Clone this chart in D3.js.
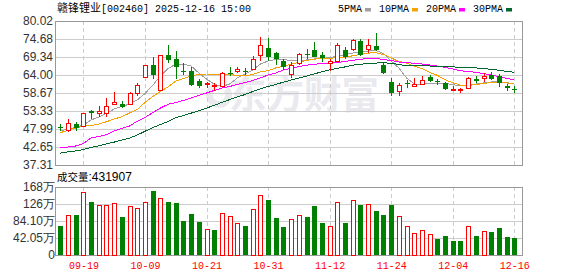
<!DOCTYPE html>
<html>
<head>
<meta charset="utf-8">
<script src="https://cdn.jsdelivr.net/npm/d3@7"></script>
<style>
body { margin: 0; background: #fff; }
svg { display: block; }
</style>
</head>
<body>
<div id="wrapper"></div>
<script>
const dates = [
    "09-16","09-17","09-18","09-19","09-22","09-23","09-24","09-25","09-26","09-29",
    "09-30","10-09","10-10","10-13","10-14","10-15","10-16","10-17","10-20","10-21",
    "10-22","10-23","10-24","10-27","10-28","10-29","10-30","10-31","11-03","11-04",
    "11-05","11-06","11-07","11-10","11-11","11-12","11-13","11-14","11-17","11-18",
    "11-19","11-20","11-21","11-24","11-25","11-26","11-27","11-28","12-01","12-02",
    "12-03","12-04","12-05","12-08","12-09","12-10","12-11","12-12","12-15","12-16"
];
const opens = [
    48.55,47.69,49.47,48.67,53.24,52.44,52.44,55.40,55.40,55.19,
    58.58,63.32,66.88,59.55,70.02,68.66,65.19,65.28,62.14,61.33,
    60.74,60.74,64.69,65.19,65.19,65.69,69.64,72.01,70.44,68.25,
    64.30,67.27,70.38,71.42,70.02,67.27,68.07,71.42,71.42,74.00,
    71.42,72.61,67.06,61.93,59.17,61.72,60.54,61.13,63.50,62.08,
    61.54,59.55,59.41,59.94,62.67,62.91,63.91,63.71,60.74,59.85
];
const highs = [
    49.47,50.95,50.06,52.70,53.53,54.81,57.18,59.05,56.29,58.96,
    61.54,67.06,69.43,69.90,72.81,71.03,67.47,66.29,62.73,61.93,
    61.54,64.89,66.29,66.29,66.08,69.64,75.19,74.98,70.83,68.84,
    67.86,70.44,71.63,73.79,70.83,68.66,73.41,72.22,74.59,74.77,
    74.77,76.55,67.47,63.11,61.72,62.52,63.11,63.71,64.09,62.73,
    61.93,60.74,60.15,63.32,63.71,64.51,64.89,64.30,61.33,60.74
];
const lows = [
    47.48,47.10,47.30,48.50,51.04,51.46,51.63,55.30,54.13,55.02,
    57.78,63.11,62.91,59.40,67.65,62.91,63.91,60.74,60.15,60.15,
    59.35,60.54,63.71,64.51,63.91,65.49,68.25,68.07,66.88,65.49,
    63.11,66.88,68.66,69.25,67.86,65.10,67.86,68.84,71.21,69.64,
    70.62,71.03,64.30,57.78,57.88,60.15,60.54,60.95,61.93,60.95,
    59.55,59.17,58.75,59.76,61.72,61.93,62.52,60.54,59.35,58.75
];
const closes = [
    48.43,49.68,48.28,52.64,52.73,53.03,54.60,55.79,54.42,58.37,
    60.95,66.88,64.09,69.85,68.45,66.46,64.89,61.13,60.74,61.54,
    60.89,64.51,64.30,65.69,64.89,68.66,72.61,69.25,68.84,66.46,
    66.88,70.23,70.08,69.43,69.05,67.86,72.61,69.43,74.18,69.85,
    72.61,71.42,64.51,58.58,60.95,61.33,61.33,62.52,62.31,61.84,
    59.94,59.76,59.64,63.11,62.37,63.50,62.91,61.54,60.15,59.64
];
// volume in 万
const volumes = [
    71.7,96.5,98.9,155.1,131.1,122.9,122.9,127.9,94.0,120.4,
    113.8,130.3,158.3,140.2,131.1,128.6,84.1,101.4,81.6,63.5,
    61.8,103.1,95.7,78.4,71.7,113.0,147.7,136.8,92.3,70.0,
    89.0,96.5,94.0,121.2,79.2,69.3,130.3,79.2,133.6,123.7,
    125.4,108.8,98.9,123.7,95.7,71.0,53.7,61.1,51.2,39.6,
    47.0,34.6,34.6,69.3,47.0,58.6,56.9,66.8,44.5,43.19
];
const volUp = [
    0,1,0,1,0,1,1,1,0,1,
    1,1,0,1,0,0,0,0,0,1,
    0,1,1,1,0,1,1,0,0,0,
    1,1,0,0,0,1,1,0,1,0,
    1,0,0,0,1,1,1,1,1,0,
    0,0,0,1,0,1,0,0,0,0
];
const ma5 = [
    47.40,48.00,48.43,49.17,50.66,51.55,52.58,53.92,54.66,55.40,
    56.59,58.52,60.89,63.71,65.93,67.17,67.27,66.67,64.60,62.82,
    61.33,60.59,61.33,63.11,64.30,65.49,67.27,68.16,68.60,68.60,
    68.30,68.30,68.45,68.75,68.90,69.19,69.49,70.08,70.53,70.83,
    71.12,71.27,70.38,68.16,66.08,63.11,61.33,61.19,61.63,61.63,
    61.48,61.19,60.74,61.04,61.33,61.63,61.93,61.93,61.78,61.33
];
const ma10 = [
    46.89,47.60,48.28,48.79,49.02,49.47,50.15,50.95,51.63,52.73,
    53.77,55.85,57.63,59.11,60.45,62.22,62.97,63.71,64.15,64.30,
    64.30,64.30,64.15,63.86,63.71,64.15,64.89,65.30,66.10,66.60,
    67.20,67.80,68.30,68.70,68.95,69.00,69.10,69.30,69.70,70.10,
    70.50,70.60,70.10,69.05,68.01,67.56,66.60,65.90,64.80,63.90,
    62.60,61.70,61.00,60.90,61.19,61.48,61.78,61.78,61.63,61.33
];
const ma20 = [
    42.44,42.65,42.95,43.69,45.32,45.76,46.30,47.39,48.19,48.88,
    50.30,51.40,52.80,54.20,55.30,55.85,56.44,57.18,57.92,58.67,
    59.41,60.15,60.59,61.19,61.78,62.37,63.11,64.00,64.60,65.50,
    66.00,66.50,66.90,67.20,67.40,67.56,67.71,68.01,68.37,68.66,
    68.90,68.90,68.60,68.30,67.86,67.71,67.47,67.27,66.97,66.67,
    66.29,65.78,65.28,65.04,64.80,64.45,64.00,63.50,63.02,62.52
];
const ma30 = [
    40.85,41.20,41.50,41.90,42.50,43.00,43.60,44.10,44.70,45.30,
    46.20,47.30,48.40,49.30,50.20,51.30,52.00,52.70,53.40,54.20,
    55.00,55.90,56.70,57.50,58.20,59.10,59.90,60.60,61.20,61.90,
    62.50,63.10,63.70,64.30,65.00,65.50,66.00,66.40,66.90,67.20,
    67.40,67.55,67.60,67.50,67.10,66.80,66.70,66.70,66.67,66.60,
    66.50,66.40,66.30,66.20,66.10,65.90,65.70,65.40,65.10,64.80
];
const maNames = ["5PMA", "10PMA", "20PMA", "30PMA"];
const priceTicks = [37.31, 42.65, 47.99, 53.33, 58.67, 64.00, 69.34, 74.68, 80.02];
const volTicks = [0, 42.05, 84.10, 126.15, 168.2];
const volTickLabels = ["0", "42.05万", "84.10万", "126万", "168万"];
const dateTicks = ["09-19", "10-09", "10-21", "10-31", "11-12", "11-24", "12-04", "12-16"];
const stockName = "赣锋锂业";
const stockInfo = "[002460] 2025-12-16 15:00";
const lastVolume = "431907";

function buildChart() {
    const dim = {
        width: 578,
        height: 276,
        left: 55,
        right: 522,
        priceTop: 21,
        priceBottom: 165,
        volTop: 187,
        volBottom: 255
    };
    const red = "#ff0000", green = "#008000";
    const maColors = ["#a0a0a0", "#f5a300", "#ff00ff", "#00662e"];
    const sans = "'Liberation Sans', Arial, sans-serif";
    const mono = "'Liberation Mono', 'DejaVu Sans Mono', monospace";
    const cjk = "'Noto Sans CJK SC', sans-serif";

    const svg = d3.select("#wrapper").append("svg")
        .attr("width", dim.width)
        .attr("height", dim.height);

    const x = d3.scalePoint()
        .domain(dates)
        .range([dim.left + 5.3, dim.right - 7.7]);
    const y = d3.scaleLinear()
        .domain([priceTicks[0], priceTicks[priceTicks.length - 1]])
        .range([dim.priceBottom, dim.priceTop]);
    const yVol = d3.scaleLinear()
        .domain([0, volTicks[volTicks.length - 1]])
        .range([dim.volBottom, dim.volTop]);

    const plotW = dim.right - dim.left;

    // watermark
    const wm = svg.append("g").attr("fill", "#e9e9ee");
    wm.append("path")
        .attr("transform", "translate(219,95)")
        .attr("d", d3.arc().innerRadius(6).outerRadius(13).startAngle(0.9).endAngle(5.9)());
    wm.append("text")
        .attr("x", 229).attr("y", 108)
        .attr("font-family", cjk).attr("font-weight", "bold").attr("font-size", 37.5)
        .text("东方财富");

    // price axis + horizontal grid
    const yAxis = svg.append("g")
        .attr("transform", `translate(${dim.left},0)`)
        .call(d3.axisLeft(y).tickValues(priceTicks).tickSize(-plotW).tickPadding(2)
            .tickFormat(d3.format(".2f")));
    yAxis.select(".domain").remove();
    yAxis.selectAll("line").attr("stroke", "#cccccc").attr("shape-rendering", "crispEdges");
    yAxis.selectAll("text").attr("font-family", sans).attr("font-size", 12).attr("fill", "#333");

    const vAxis = svg.append("g")
        .attr("transform", `translate(${dim.left},0)`)
        .call(d3.axisLeft(yVol).tickValues(volTicks).tickSize(-plotW).tickPadding(0)
            .tickFormat((d, i) => volTickLabels[i]));
    vAxis.select(".domain").remove();
    vAxis.selectAll("line").attr("stroke", "#cccccc").attr("shape-rendering", "crispEdges");
    vAxis.selectAll("text").attr("font-family", sans).attr("font-size", 12).attr("fill", "#333");

    // vertical dashed grid
    [[dim.priceTop, dim.priceBottom], [dim.volTop, dim.volBottom]].forEach(([t, b]) => {
        svg.append("g").selectAll("line")
            .data(dateTicks)
            .join("line")
            .attr("x1", d => Math.round(x(d)) + 0.5)
            .attr("x2", d => Math.round(x(d)) + 0.5)
            .attr("y1", t).attr("y2", b)
            .attr("stroke", "#cccccc")
            .attr("stroke-dasharray", "4,3");
    });

    // frames
    [[dim.priceTop, dim.priceBottom], [dim.volTop, dim.volBottom]].forEach(([t, b]) => {
        svg.append("rect")
            .attr("x", dim.left + 0.5).attr("y", t + 0.5)
            .attr("width", plotW).attr("height", b - t)
            .attr("fill", "none").attr("stroke", "#999");
    });

    // date labels
    const xAxis = svg.append("g")
        .attr("transform", `translate(0,${dim.volBottom})`)
        .call(d3.axisBottom(x).tickValues(dateTicks).tickSize(0).tickPadding(7));
    xAxis.select(".domain").remove();
    xAxis.selectAll("text").attr("font-family", mono).attr("font-size", 10).attr("fill", red);

    // moving averages
    [ma5, ma10, ma20, ma30].forEach((series, k) => {
        const line = d3.line()
            .x((d, i) => x(dates[i]))
            .y(d => y(d));
        svg.append("path")
            .attr("d", line(series))
            .attr("fill", "none")
            .attr("stroke", maColors[k])
            .attr("stroke-width", 1)
            .attr("shape-rendering", "crispEdges");
    });

    // candles
    const candles = dates.map((d, i) => ({
        date: d, open: opens[i], high: highs[i], low: lows[i], close: closes[i]
    }));
    const cg = svg.append("g").attr("shape-rendering", "crispEdges");
    const cx = d => Math.round(x(d.date)) + 0.5;
    cg.selectAll(".wick")
        .data(candles)
        .join("line")
        .attr("x1", cx).attr("x2", cx)
        .attr("y1", d => y(d.high)).attr("y2", d => y(d.low))
        .attr("stroke", d => d.close >= d.open ? red : green);
    cg.selectAll(".body")
        .data(candles)
        .join("rect")
        .attr("x", d => d.close >= d.open ? cx(d) - 2 : cx(d) - 2.5)
        .attr("width", d => d.close >= d.open ? 4 : 5)
        .attr("y", d => y(Math.max(d.open, d.close)))
        .attr("height", d => Math.max(1, y(Math.min(d.open, d.close)) - y(Math.max(d.open, d.close))))
        .attr("fill", d => d.close >= d.open ? "#fff" : green)
        .attr("stroke", d => d.close >= d.open ? red : "none");

    // volume bars
    const vg = svg.append("g").attr("shape-rendering", "crispEdges");
    vg.selectAll("rect")
        .data(volumes)
        .join("rect")
        .attr("x", (d, i) => volUp[i] ? Math.round(x(dates[i])) - 1.5 : Math.round(x(dates[i])) - 2)
        .attr("width", (d, i) => volUp[i] ? 4 : 5)
        .attr("y", d => yVol(d))
        .attr("height", d => yVol(0) - yVol(d))
        .attr("fill", (d, i) => volUp[i] ? "#fff" : green)
        .attr("stroke", (d, i) => volUp[i] ? red : "none");

    // title
    const title = svg.append("text")
        .attr("x", 57).attr("y", 11.5)
        .attr("fill", "#000");
    title.append("tspan").attr("font-family", cjk).attr("font-size", 11).text(stockName);
    title.append("tspan").attr("font-family", mono).attr("font-size", 10).text(stockInfo);

    // legend
    let lx = 338;
    maNames.forEach((name, k) => {
        svg.append("text")
            .attr("x", lx).attr("y", 11.5)
            .attr("font-family", mono).attr("font-size", 10)
            .text(name);
        lx += name.length * 6 + 3;
        svg.append("rect")
            .attr("x", lx).attr("y", 8)
            .attr("width", 6).attr("height", 3.5)
            .attr("fill", maColors[k]);
        lx += 6 + 8;
    });

    // volume caption
    const cap = svg.append("text")
        .attr("x", 57).attr("y", 181)
        .attr("fill", "#000");
    cap.append("tspan").attr("font-family", cjk).attr("font-size", 10.5).text("成交量");
    cap.append("tspan").attr("font-family", sans).attr("font-size", 12).text(":" + lastVolume);
}

buildChart();
</script>
</body>
</html>
